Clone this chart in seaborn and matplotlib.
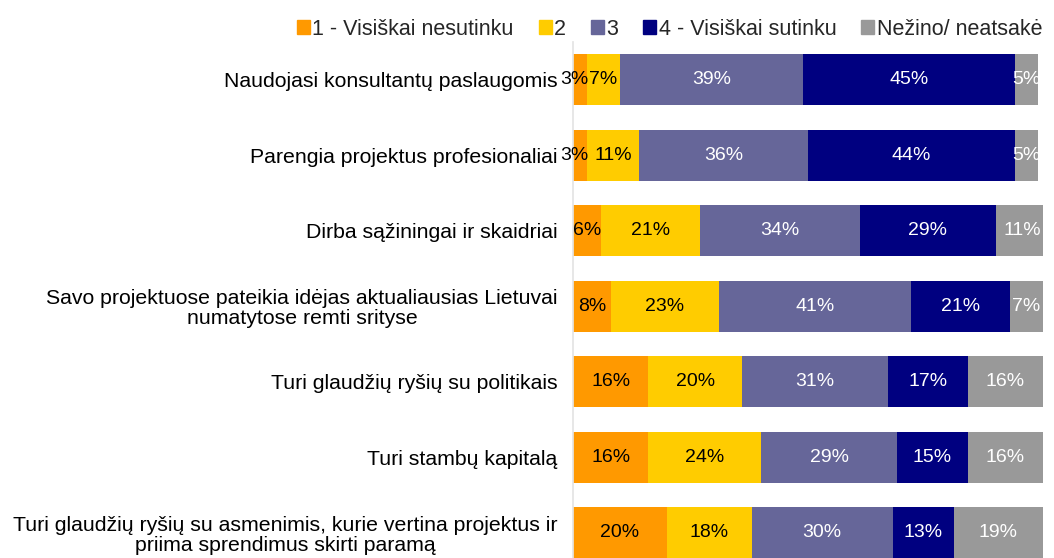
import seaborn as sns
import matplotlib.pyplot as plt
import matplotlib.patches as mpatches

# statements (top to bottom)
statements = [
    "Naudojasi konsultantų paslaugomis",
    "Parengia projektus profesionaliai",
    "Dirba sąžiningai ir skaidriai",
    "Savo projektuose pateikia idėjas aktualiausias Lietuvai\nnumatytose remti srityse",
    "Turi glaudžių ryšių su politikais",
    "Turi stambų kapitalą",
    "Turi glaudžių ryšių su asmenimis, kurie vertina projektus ir\npriima sprendimus skirti paramą",
]

# answer shares in %
ans_1 = [3, 3, 6, 8, 16, 16, 20]
ans_2 = [7, 11, 21, 23, 20, 24, 18]
ans_3 = [39, 36, 34, 41, 31, 29, 30]
ans_4 = [45, 44, 29, 21, 17, 15, 13]
ans_na = [5, 5, 11, 7, 16, 16, 19]

series_names = ["1 - Visiškai nesutinku", "2", "3", "4 - Visiškai sutinku", "Nežino/ neatsakė"]
series_colors = ["#FF9900", "#FFCC00", "#666699", "#000080", "#999999"]
text_colors = ["black", "black", "white", "white", "white"]

sns.set_theme(style="white")
plt.rcParams["font.family"] = ["Liberation Sans", "DejaVu Sans"]

fig = plt.figure(figsize=(10.54, 5.58), dpi=100)
ax = fig.add_axes([573 / 1054, 0.0, 470 / 1054, (558 - 42) / 558])

series = [ans_1, ans_2, ans_3, ans_4, ans_na]

# cumulative sums for stacking
cumulative = []
running = [0] * len(statements)
for s in series:
    running = [r + v for r, v in zip(running, s)]
    cumulative.append(list(running))

# draw from the longest stack down so the shorter ones sit on top
for k in range(len(series) - 1, -1, -1):
    sns.barplot(x=cumulative[k], y=statements, orient="h", color=series_colors[k],
                saturation=1, width=0.67, linewidth=0, ax=ax)

# value labels centered in each segment
for k, s in enumerate(series):
    for i, v in enumerate(s):
        start = cumulative[k][i] - v
        xpos = start + v / 2
        if v < 5:
            # tiny segment: label spills to the left like the original
            xpos -= 1.2
        ax.text(xpos, i, f"{v}%", ha="center", va="center",
                fontsize=14, color=text_colors[k], clip_on=False if v < 5 else True)

ax.set_xlim(0, 100)
ax.set_ylim(6.334, -0.5)
ax.set_xlabel("")
ax.set_ylabel("")
ax.set_xticks([])
for side in ["top", "right", "bottom"]:
    ax.spines[side].set_visible(False)
ax.spines["left"].set_color("#E4E4E4")
ax.tick_params(axis="y", length=0, pad=11, labelsize=15.3)
for lbl in ax.get_yticklabels():
    lbl.set_multialignment("center")
    lbl.set_linespacing(1.05)
    lbl.set_color("black")

handles = [mpatches.Patch(color=c, label=n) for c, n in zip(series_colors, series_names)]
fig.legend(handles=handles, loc="center left", bbox_to_anchor=(297 / 1054, 0.948),
           ncol=5, frameon=False, fontsize=15.5, handlelength=0.6, handleheight=0.6,
           handletextpad=0.12, columnspacing=1.15, borderaxespad=0, borderpad=0)

fig.savefig("out.png", dpi=100)
plt.close()
